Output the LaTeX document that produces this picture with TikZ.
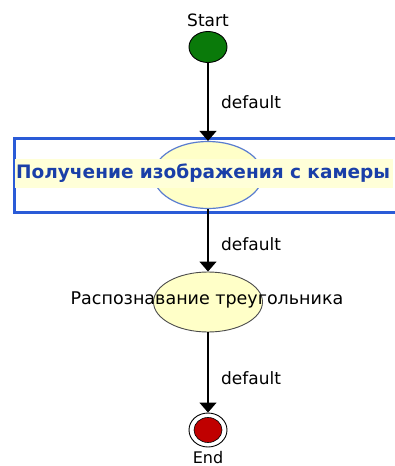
\documentclass[tikz,border=0pt]{standalone}
\usepackage{fontspec}
\setmainfont{DejaVu Sans}
\usetikzlibrary{arrows.meta,shapes.geometric}
\definecolor{stgreen}{HTML}{0A7A0A}
\definecolor{endred}{HTML}{C00000}
\definecolor{frameblue}{HTML}{2A5BD7}
\definecolor{textblue}{HTML}{1A3FA8}
\definecolor{paleyellow}{HTML}{FFFFC8}
\definecolor{bandyellow}{HTML}{FFFFD8}
\definecolor{ellblue}{HTML}{5A7DD0}
\tikzset{
  lbl/.style={font=\fontsize{17}{19}\selectfont, text=black, inner sep=0pt},
  flow/.style={draw=black, line width=1.3pt, -{Triangle[length=10pt,width=17pt]}},
  state/.style={ellipse, draw=black!70, fill=paleyellow, line width=0.9pt, minimum width=109pt, minimum height=60pt, inner sep=0pt},
}
\begin{document}
\begin{tikzpicture}[x=1pt,y=-1pt]
\useasboundingbox (0,0) rectangle (395,466);
\clip (0,0) rectangle (395,466);
% start
\node[lbl] (startlbl) at (208,20) {Start};
\node[ellipse, draw=black, line width=0.9pt, fill=stgreen, minimum width=38pt, minimum height=31pt, inner sep=0pt] (start) at (208,47) {};
% frame with selected state
\node[draw=frameblue, line width=3pt, fill=white, minimum width=392pt, minimum height=74pt, inner sep=0pt, anchor=north west] (frame) at (13,137) {};
\node[state, draw=ellblue, line width=1.2pt, minimum height=67pt] (s1) at (208,175) {};
\node[fill=bandyellow, minimum width=378pt, minimum height=29pt, inner sep=0pt, anchor=west] (band) at (15,173) {};
\node[inner sep=0pt, anchor=west, text=textblue, font=\bfseries\fontsize{18.5}{21}\selectfont] (s1text) at (16,173) {Получение изображения с камеры};
% second state
\node[state, minimum height=60pt] (s2) at (208,302) {};
\node[inner sep=0pt, font=\fontsize{17.5}{20}\selectfont] (s2text) at (207,300) {Распознавание треугольника};
% end
\node[ellipse, draw=black, line width=0.9pt, fill=white, minimum width=38pt, minimum height=34pt, inner sep=0pt] (endc) at (208,430) {};
\node[ellipse, draw=black, line width=0.6pt, fill=endred, minimum width=28pt, minimum height=25pt, inner sep=0pt] (endin) at (208,430) {};
\node[lbl, font=\fontsize{16}{18}\selectfont] (endlbl) at (208,457.5) {End};
% connectors
\draw[flow] (start) -- (s1.north);
\draw[flow] (s1.south) -- (s2.north);
\draw[flow] (s2.south) -- (endc.north);
\node[lbl, anchor=west] (d1) at (221,102) {default};
\node[lbl, anchor=west] (d2) at (221,244) {default};
\node[lbl, anchor=west] (d3) at (221,378) {default};
\end{tikzpicture}
\end{document}
